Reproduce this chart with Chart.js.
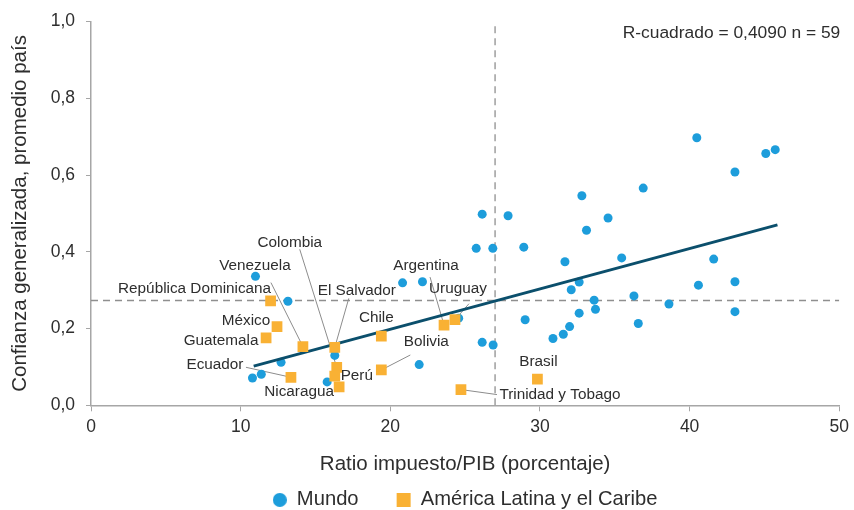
<!DOCTYPE html>
<html>
<head>
<meta charset="utf-8">
<script src="https://cdn.jsdelivr.net/npm/chart.js@4"></script>
<style>
  html, body { margin: 0; padding: 0; background: #fff; }
  #wrap { width: 854px; height: 510px; }
</style>
</head>
<body>
<div id="wrap"><canvas id="chart" width="854" height="510"></canvas></div>
<script>
// Mundo: ratio impuesto/PIB (x) y confianza generalizada (y)
let mundoX = [10.99, 13.16, 12.7, 11.38, 10.79, 15.78, 16.29, 24.57, 20.82, 22.15, 21.93,
  25.74, 26.85, 26.14, 26.87, 40.48, 45.09, 45.72, 43.03, 36.9, 32.8, 34.55, 33.11,
  26.14, 27.87, 28.92, 31.67, 35.46, 41.61, 32.62, 32.09, 40.59, 43.03, 33.62, 36.28,
  38.62, 32.62, 33.71, 43.03, 36.57, 29.01, 31.98, 31.56, 30.87];
let mundoY = [0.336, 0.271, 0.112, 0.081, 0.071, 0.061, 0.130, 0.227, 0.319, 0.322, 0.106,
  0.409, 0.409, 0.164, 0.157, 0.697, 0.656, 0.666, 0.608, 0.566, 0.546, 0.488, 0.456,
  0.498, 0.494, 0.412, 0.374, 0.384, 0.381, 0.321, 0.301, 0.313, 0.322, 0.274, 0.285,
  0.264, 0.240, 0.250, 0.244, 0.213, 0.223, 0.205, 0.185, 0.174];

// America Latina y el Caribe
let latamNames = ["República Dominicana", "México", "Guatemala", "Venezuela", "Ecuador",
  "Colombia", "Perú", "Nicaragua", "El Salvador", "Chile", "Bolivia", "Argentina",
  "Uruguay", "Trinidad y Tobago", "Brasil"];
let latamX = [12.0, 12.43, 11.7, 14.16, 13.36, 16.42, 16.29, 16.58, 16.29, 19.4, 19.4,
  23.59, 24.32, 24.72, 29.83];
let latamY = [0.272, 0.205, 0.176, 0.153, 0.073, 0.099, 0.076, 0.048, 0.151, 0.180, 0.092,
  0.209, 0.223, 0.041, 0.068];

// recta de regresion y promedios
let trendX = [10.87, 45.87];
let trendY = [0.102, 0.470];
let meanX = 27.0;
let meanY = 0.273;

let xTicks = [0, 10, 20, 30, 40, 50];
let yTicks = [0, 0.2, 0.4, 0.6, 0.8, 1.0];
let rText = "R-cuadrado = 0,4090 n = 59";

// desplazamiento de etiquetas (px): texto y linea guia
let labelOffset = [[-76, -12], [-31, -6], [-45, 3], [-48, -81], [-76, -13], [-47, -125], [22, 0],
  [-40, 5], [22, -57], [-5, -18], [45, -28], [-18, -59], [3, -31], [99, 5], [1, -17]];
let leaderEnd = [null, null, null, [-32, -64], [-45, -10], [-37, -118], null, null,
  [14, -49], null, [29, -15], [-14, -48], [14, -16], [36, 5], null];

const FONT = "'Liberation Sans', Arial, sans-serif";
const BLUE = "#1d9ddb";
const ORANGE = "#f9b134";
const TEXT = "#2e2e2e";
const AXIS = "#a6a6a6";

function pts(xs, ys) {
  return xs.map((x, i) => ({ x: x, y: ys[i] }));
}

// small round marker for the legend
const dot = document.createElement("canvas");
dot.width = 14;
dot.height = 14;
const dctx = dot.getContext("2d");
dctx.fillStyle = BLUE;
dctx.beginPath();
dctx.arc(7, 7, 7, 0, Math.PI * 2);
dctx.fill();

const countryLabels = {
  id: "countryLabels",
  beforeDatasetsDraw(chart) {
    const ctx = chart.ctx;
    const xs = chart.scales.x, ys = chart.scales.y;
    ctx.save();
    ctx.strokeStyle = "#8c8c8c";
    ctx.lineWidth = 1;
    latamNames.forEach((n, i) => {
      if (!leaderEnd[i]) return;
      const px = xs.getPixelForValue(latamX[i]);
      const py = ys.getPixelForValue(latamY[i]);
      ctx.beginPath();
      ctx.moveTo(px, py);
      ctx.lineTo(px + leaderEnd[i][0], py + leaderEnd[i][1]);
      ctx.stroke();
    });
    ctx.restore();
  },
  afterDatasetsDraw(chart) {
    const ctx = chart.ctx;
    const xs = chart.scales.x, ys = chart.scales.y;
    ctx.save();
    ctx.fillStyle = TEXT;
    ctx.font = "15.3px " + FONT;
    ctx.textAlign = "center";
    ctx.textBaseline = "middle";
    latamNames.forEach((n, i) => {
      const px = xs.getPixelForValue(latamX[i]);
      const py = ys.getPixelForValue(latamY[i]);
      ctx.fillText(n, px + labelOffset[i][0], py + labelOffset[i][1]);
    });
    ctx.font = "17.4px " + FONT;
    ctx.textAlign = "right";
    ctx.fillText(rText, chart.chartArea.right + 1, chart.chartArea.top + 12);
    ctx.restore();
  }
};

const ctx = document.getElementById("chart").getContext("2d");
const myChart = new Chart(ctx, {
  type: "scatter",
  data: {
    datasets: [
      {
        label: "Mundo",
        data: pts(mundoX, mundoY),
        backgroundColor: BLUE,
        borderColor: BLUE,
        pointStyle: "circle",
        pointRadius: 4.5,
        borderWidth: 0,
        order: 2
      },
      {
        label: "América Latina y el Caribe",
        data: pts(latamX, latamY),
        backgroundColor: ORANGE,
        borderColor: ORANGE,
        pointStyle: "rect",
        pointRadius: 7.6,
        borderWidth: 0,
        order: 0
      },
      {
        label: "trend",
        type: "line",
        data: pts(trendX, trendY),
        borderColor: "#0b4f6c",
        borderWidth: 3,
        pointRadius: 0,
        fill: false,
        order: 1
      },
      {
        label: "meanY",
        type: "line",
        data: [{ x: xTicks[0], y: meanY }, { x: xTicks[xTicks.length - 1], y: meanY }],
        borderColor: "#8f8f8f",
        borderWidth: 1.3,
        borderDash: [7, 5],
        pointRadius: 0,
        fill: false,
        order: 3
      },
      {
        label: "meanX",
        type: "line",
        data: [{ x: meanX, y: yTicks[0] }, { x: meanX, y: yTicks[yTicks.length - 1] }],
        borderColor: "#8f8f8f",
        borderWidth: 1.3,
        borderDash: [7, 5],
        pointRadius: 0,
        fill: false,
        order: 3
      }
    ]
  },
  options: {
    responsive: false,
    animation: false,
    layout: { padding: { top: 18, right: 11, left: 0, bottom: -10 } },
    scales: {
      x: {
        type: "linear",
        min: 0,
        max: 50,
        afterBuildTicks: s => { s.ticks = xTicks.map(v => ({ value: v })); },
        afterFit: s => { s.height = 74.5; },
        grid: { drawOnChartArea: false, drawTicks: true, tickLength: 6, color: AXIS },
        border: { color: AXIS, width: 1.5 },
        ticks: { color: TEXT, font: { family: FONT, size: 17.5 }, padding: 5, maxRotation: 0 },
        title: {
          display: true,
          text: "Ratio impuesto/PIB (porcentaje)",
          color: TEXT,
          font: { family: FONT, size: 20.5, lineHeight: 1 },
          padding: { top: 0, bottom: 5 }
        }
      },
      y: {
        type: "linear",
        min: 0,
        max: 1,
        afterBuildTicks: s => { s.ticks = yTicks.map(v => ({ value: v })); },
        afterFit: s => { s.width = 91; },
        grid: { drawOnChartArea: false, drawTicks: true, tickLength: 5, color: AXIS },
        border: { color: AXIS, width: 1.5 },
        ticks: {
          color: TEXT,
          font: { family: FONT, size: 17.5 },
          padding: 11,
          callback: v => v.toFixed(1).replace(".", ",")
        },
        title: {
          display: true,
          text: "Confianza generalizada, promedio país",
          color: TEXT,
          font: { family: FONT, size: 20.5, lineHeight: 1 },
          padding: { top: 10, bottom: 0 }
        }
      }
    },
    plugins: {
      legend: {
        position: "bottom",
        fullSize: false,
        labels: {
          usePointStyle: true,
          boxHeight: 14,
          boxWidth: 14,
          padding: 10,
          color: TEXT,
          font: { family: FONT, size: 20.2 },
          filter: item => item.datasetIndex < 2,
          sort: (a, b) => a.datasetIndex - b.datasetIndex,
          generateLabels: chart => {
            const items = Chart.defaults.plugins.legend.labels.generateLabels(chart);
            items.forEach(it => {
              if (it.datasetIndex === 0) {
                it.text = it.text + "     ";
                it.pointStyle = dot;
              }
            });
            return items;
          }
        }
      },
      tooltip: { enabled: false }
    }
  },
  plugins: [countryLabels]
});
</script>
</body>
</html>
